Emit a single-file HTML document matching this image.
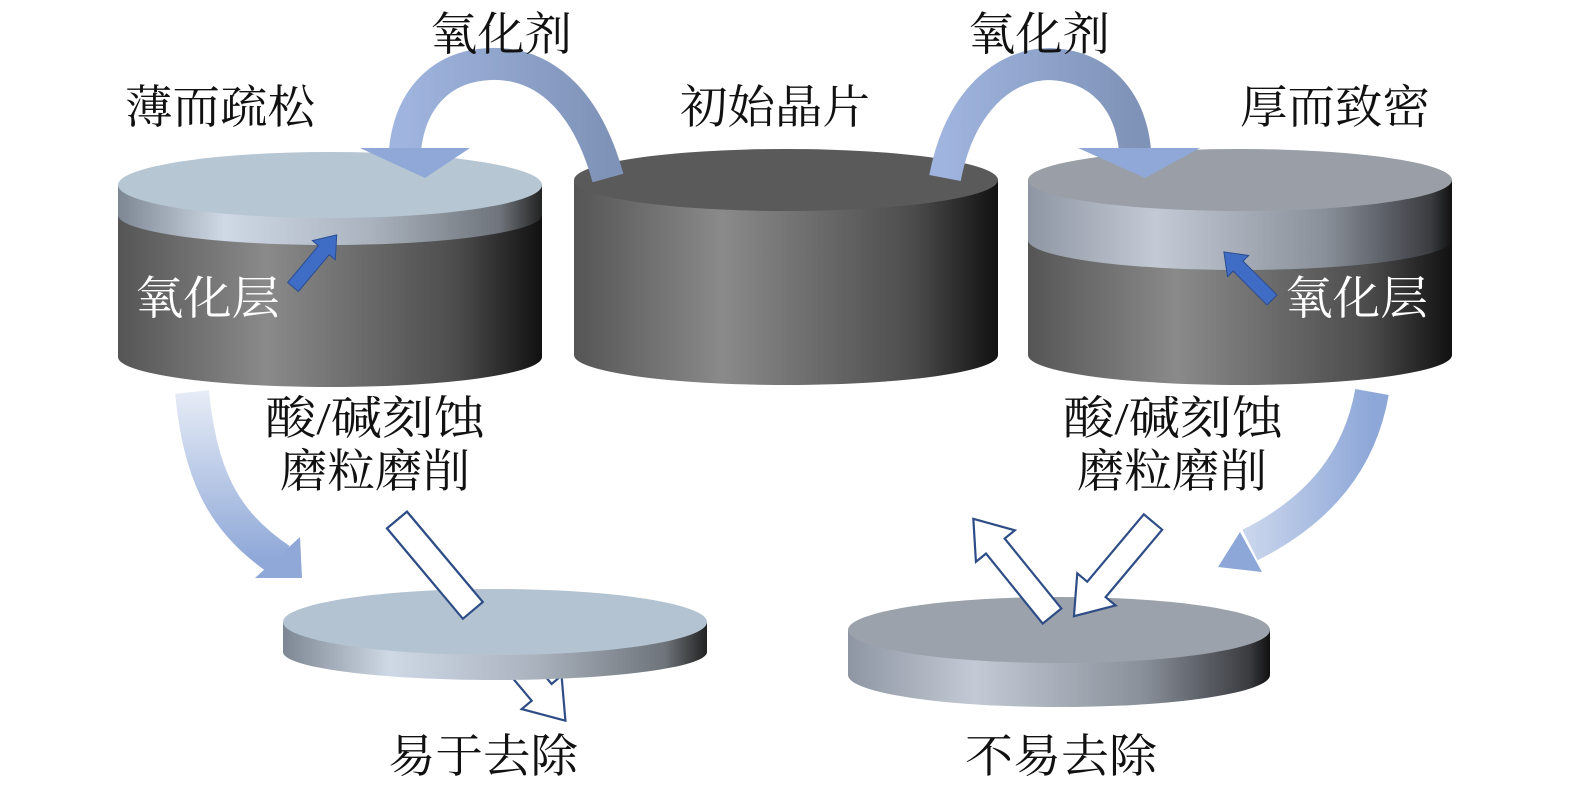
<!DOCTYPE html>
<html><head><meta charset="utf-8"><style>
html,body{margin:0;padding:0;background:#fff}
svg text{font-family:"Liberation Serif","Noto Serif CJK SC",serif;font-size:46px;fill:#111}
</style></head><body>
<svg width="1575" height="797" viewBox="0 0 1575 797" xmlns="http://www.w3.org/2000/svg">
<defs>
<linearGradient id="dark" x1="0" x2="1">
<stop offset="0" stop-color="#555"/><stop offset="0.35" stop-color="#8a8a8a"/><stop offset="0.8" stop-color="#4c4c4c"/><stop offset="1" stop-color="#111"/></linearGradient>
<linearGradient id="ox" x1="0" x2="1">
<stop offset="0" stop-color="#7d8794"/><stop offset="0.25" stop-color="#cfd9e6"/><stop offset="0.6" stop-color="#a9b2bd"/><stop offset="0.9" stop-color="#6f747b"/><stop offset="1" stop-color="#222"/></linearGradient>
<linearGradient id="ox2" x1="0" x2="1">
<stop offset="0" stop-color="#8e96a3"/><stop offset="0.3" stop-color="#c3cad5"/><stop offset="0.7" stop-color="#8a909a"/><stop offset="0.95" stop-color="#3a3c40"/><stop offset="1" stop-color="#111"/></linearGradient>
<linearGradient id="arr" x1="0" y1="0" x2="0" y2="1">
<stop offset="0" stop-color="#e6ecf6"/><stop offset="1" stop-color="#8fa8d8"/></linearGradient>
<linearGradient id="arrL" x1="0" y1="0" x2="1" y2="0">
<stop offset="0" stop-color="#9fb4de"/><stop offset="1" stop-color="#7f93b8"/></linearGradient>
<linearGradient id="arrR" x1="1" y1="0" x2="0" y2="0">
<stop offset="0" stop-color="#8da7d8"/><stop offset="1" stop-color="#c9d5ec"/></linearGradient>
</defs>

<!-- Left cylinder -->
<path d="M118,215 L118,357 A212,30 0 0 0 542,357 L542,215 Z" fill="url(#dark)"/>
<path d="M118,185 L118,215 A212,30 0 0 0 542,215 L542,185 Z" fill="url(#ox)"/>
<ellipse cx="330" cy="185" rx="212" ry="33" fill="#b6c6d3"/>
<!-- Center cylinder -->
<path d="M574,180 L574,355 A212,30 0 0 0 998,355 L998,180 Z" fill="url(#dark)"/>
<ellipse cx="786" cy="180" rx="212" ry="31" fill="#5a5a5a"/>
<!-- Right cylinder -->
<path d="M1028,240 L1028,355 A212,30 0 0 0 1452,355 L1452,240 Z" fill="url(#dark)"/>
<path d="M1028,180 L1028,240 A212,30 0 0 0 1452,240 L1452,180 Z" fill="url(#ox2)"/>
<ellipse cx="1240" cy="180" rx="212" ry="31" fill="#9a9fa7"/>

<!-- top curved arrows -->
<path d="M608,178 C585,95 540,62 490,64 C440,66 410,100 405,150" fill="none" stroke="url(#arrL)" stroke-width="32"/>
<polygon points="360,148 470,148 425,178" fill="#8fa8d8"/>
<path d="M945,178 C960,100 1005,64 1050,64 C1100,66 1130,100 1135,150" fill="none" stroke="url(#arrL)" stroke-width="32"/>
<polygon points="1078,148 1200,148 1145,178" fill="#8fa8d8"/>

<!-- down curved arrows -->
<path d="M192,392 C200,470 220,520 280,560" fill="none" stroke="url(#arr)" stroke-width="34"/>
<polygon points="255,578 302,578 300,537" fill="#8fa8d8"/>
<path d="M1372,392 C1360,460 1320,510 1250,545" fill="none" stroke="url(#arrR)" stroke-width="34"/>
<polygon points="1218,567 1262,572 1240,532" fill="#8da7d8"/>

<!-- small blue arrows -->
<g transform="translate(293,287) rotate(-50)"><polygon points="0,-7 48,-7 48,-15 68,0 48,15 48,7 0,7" fill="#3f6cc4" stroke="#2a4c90" stroke-width="1"/></g>
<g transform="translate(1272,300) rotate(-135)"><polygon points="0,-7 48,-7 48,-15 68,0 48,15 48,7 0,7" fill="#3f6cc4" stroke="#2a4c90" stroke-width="1"/></g>

<!-- left outline arrow (full) -->
<g transform="translate(397,520) rotate(50)" fill="#fff" stroke="#2e4d86" stroke-width="2.2"><polygon points="0,-13 225,-13 225,-26 262,0 225,26 225,13 0,13"/></g>
<!-- bottom left disc -->
<path d="M283,622 L283,652 A212,28 0 0 0 707,652 L707,622 Z" fill="url(#ox)"/>
<ellipse cx="495" cy="622" rx="212" ry="33" fill="#b3c3d1"/>
<g transform="translate(397,520) rotate(50)" fill="#fff" stroke="#2e4d86" stroke-width="2.2"><polygon points="0,-13 118,-13 118,13 0,13"/></g>

<!-- bottom right disc -->
<path d="M848,630 L848,675 A211,32 0 0 0 1270,675 L1270,630 Z" fill="url(#ox2)"/>
<ellipse cx="1059" cy="630" rx="211" ry="33" fill="#9ca2ab"/>
<g fill="#fff" stroke="#2e4d86" stroke-width="2.2">
<g transform="translate(1052,616) rotate(231)"><polygon points="0,-12 90,-12 90,-25 125,0 90,25 90,12 0,12"/></g>
<g transform="translate(1153,522) rotate(130)"><polygon points="0,-12 88,-12 88,-25 123,0 88,25 88,12 0,12"/></g>
</g>

<!-- texts -->
<text x="430" y="50" textLength="142" lengthAdjust="spacingAndGlyphs">氧化剂</text>
<text x="968" y="50" textLength="142" lengthAdjust="spacingAndGlyphs">氧化剂</text>
<text x="125" y="123" textLength="190" lengthAdjust="spacingAndGlyphs">薄而疏松</text>
<text x="680" y="123" textLength="190" lengthAdjust="spacingAndGlyphs">初始晶片</text>
<text x="1240" y="123" textLength="190" lengthAdjust="spacingAndGlyphs">厚而致密</text>
<text x="135" y="314" textLength="145" lengthAdjust="spacingAndGlyphs" style="fill:#fff">氧化层</text>
<text x="1285" y="314" textLength="143" lengthAdjust="spacingAndGlyphs" style="fill:#fff">氧化层</text>
<text x="265" y="434" textLength="220" lengthAdjust="spacingAndGlyphs">酸/碱刻蚀</text>
<text x="280" y="487" textLength="190" lengthAdjust="spacingAndGlyphs">磨粒磨削</text>
<text x="1063" y="434" textLength="220" lengthAdjust="spacingAndGlyphs">酸/碱刻蚀</text>
<text x="1077" y="487" textLength="190" lengthAdjust="spacingAndGlyphs">磨粒磨削</text>
<text x="388" y="772" textLength="190" lengthAdjust="spacingAndGlyphs">易于去除</text>
<text x="965" y="772" textLength="192" lengthAdjust="spacingAndGlyphs">不易去除</text>
</svg>
</body></html>
